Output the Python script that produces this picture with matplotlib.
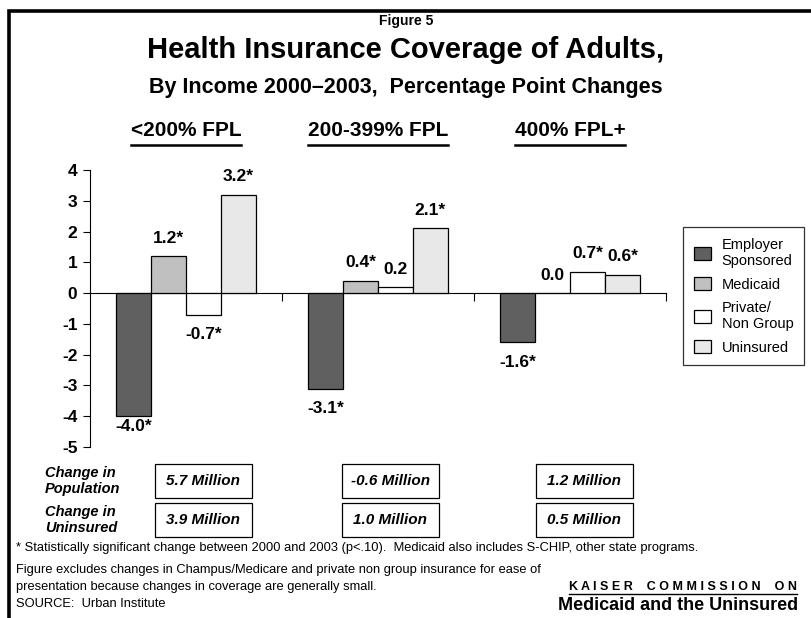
import matplotlib
matplotlib.use("Agg")
import matplotlib.pyplot as plt
import numpy as np
from matplotlib.patches import Patch, Rectangle
from matplotlib.lines import Line2D

groups = ["<200% FPL", "200-399% FPL", "400% FPL+"]
series = ["Employer\nSponsored", "Medicaid", "Private/\nNon Group", "Uninsured"]
employer = [-4.0, -3.1, -1.6]
medicaid = [1.2, 0.4, 0.0]
private = [-0.7, 0.2, 0.7]
uninsured = [3.2, 2.1, 0.6]
labels_emp = ["-4.0*", "-3.1*", "-1.6*"]
labels_med = ["1.2*", "0.4*", "0.0"]
labels_pri = ["-0.7*", "0.2", "0.7*"]
labels_uni = ["3.2*", "2.1*", "0.6*"]
pop_change = ["5.7 Million", "-0.6 Million", "1.2 Million"]
unins_change = ["3.9 Million", "1.0 Million", "0.5 Million"]
yticks = [4, 3, 2, 1, 0, -1, -2, -3, -4, -5]

colors = ["#606060", "#c0c0c0", "#ffffff", "#e8e8e8"]
SANS = ["Liberation Sans", "DejaVu Sans"]
plt.rcParams['font.family'] = SANS

W, H = 812, 618
fig = plt.figure(figsize=(W / 100, H / 100), dpi=100)

def fx(px):
    return px / W

def fy(py):
    return 1 - py / H

# frame
fig.add_artist(Line2D([fx(9.5), fx(9.5), fx(812)], [fy(618), fy(10.5), fy(10.5)],
                      color="black", lw=2.6, transform=fig.transFigure, solid_joinstyle="miter"))

# titles
fig.text(0.5, fy(21), "Figure 5", ha="center", va="center", fontsize=10,
         fontweight="bold")
fig.text(0.5, fy(50), "Health Insurance Coverage of Adults,", ha="center", va="center",
         fontsize=21, fontweight="bold")
fig.text(0.5, fy(88), "By Income 2000\u20132003,  Percentage Point Changes", ha="center",
         va="center", fontsize=15.5, fontweight="bold")

# axes
ax_l, ax_r, ax_t, ax_b = 90, 666, 170, 447
ax = fig.add_axes([fx(ax_l), fy(ax_b), fx(ax_r - ax_l), (ax_b - ax_t) / H])
x = np.arange(len(groups))
bw = 0.182
data = [employer, medicaid, private, uninsured]
labs = [labels_emp, labels_med, labels_pri, labels_uni]
for i, (vals, c, lb) in enumerate(zip(data, colors, labs)):
    pos = x - 1.5 * bw + i * bw
    ax.bar(pos, vals, width=bw, color=c, edgecolor="black", linewidth=0.9, zorder=3)
    for p, v, t in zip(pos, vals, lb):
        if v >= 0:
            yy = v + 0.58
        else:
            yy = max(v - 0.65, -4.35)
        ax.text(p, yy, t, ha="center", va="center", fontsize=12.5, fontweight="bold")

ax.set_xlim(-0.5, 2.5)
ax.set_ylim(-5, 4)
ax.set_yticks(yticks)
ax.set_yticklabels([str(t) for t in yticks], fontsize=12.5, fontweight="bold")
ax.tick_params(axis="y", direction="out", length=5, width=0.8, pad=4)
ax.spines["top"].set_visible(False)
ax.spines["right"].set_visible(False)
ax.spines["left"].set_linewidth(0.8)
ax.spines["bottom"].set_position(("data", 0))
ax.spines["bottom"].set_linewidth(0.8)
ax.set_xticks([0.5, 1.5, 2.5])
ax.set_xticklabels([])
ax.tick_params(axis="x", direction="out", length=6, width=0.8)
ax.patch.set_alpha(0)

# group headings (underlined)
for xi, g in zip(x, groups):
    xp = ax_l + (xi + 0.5) / 3 * (ax_r - ax_l)
    fig.text(fx(xp), fy(131), g, ha="center", va="center", fontsize=15,
             fontweight="bold")
fig.canvas.draw()
r = fig.canvas.get_renderer()
for t in fig.texts:
    if t.get_text() in groups:
        bb = t.get_window_extent(r)
        fig.add_artist(Line2D([bb.x0 / W, bb.x1 / W], [fy(145), fy(145)], color="black",
                              lw=1.8, transform=fig.transFigure))

# legend
handles = [Patch(facecolor=c, edgecolor="black", linewidth=0.9) for c in colors]
leg = fig.legend(handles, series, loc="upper left", bbox_to_anchor=(fx(683), fy(227)),
                 frameon=True, fancybox=False, fontsize=10.5, handlelength=1.15,
                 handleheight=1.0, handletextpad=0.75, labelspacing=0.62, borderpad=0.75,
                 borderaxespad=0, edgecolor="black")
leg.get_frame().set_linewidth(0.9)

# change boxes
fig.text(fx(45), fy(481), "Change in\nPopulation", ha="left", va="center", fontsize=10.5,
         fontweight="bold", style="italic", linespacing=1.2)
fig.text(fx(45), fy(520), "Change in\nUninsured", ha="left", va="center", fontsize=10.5,
         fontweight="bold", style="italic", linespacing=1.2)
box_x = [155, 342, 536]
row_y = [(464, 498), (503, 537)]
for bx, pc, uc in zip(box_x, pop_change, unins_change):
    for (y0, y1), txt in zip(row_y, [pc, uc]):
        fig.add_artist(Rectangle((fx(bx), fy(y1)), fx(97), (y1 - y0) / H, facecolor="white",
                                 edgecolor="black", lw=0.9, transform=fig.transFigure))
        fig.text(fx(bx + 48.5), fy((y0 + y1) / 2), txt, ha="center", va="center",
                 fontsize=11, fontweight="bold", style="italic")

# footnotes
fs = 9.3
fig.text(fx(16), fy(548), "* Statistically significant change between 2000 and 2003 (p<.10).  "
         "Medicaid also includes S-CHIP, other state programs.", ha="left", va="center",
         fontsize=fs)
fig.text(fx(16), fy(570), "Figure excludes changes in Champus/Medicare and private non group "
         "insurance for ease of", ha="left", va="center", fontsize=fs)
fig.text(fx(16), fy(587), "presentation because changes in coverage are generally small.",
         ha="left", va="center", fontsize=fs)
fig.text(fx(16), fy(604), "SOURCE:  Urban Institute", ha="left", va="center", fontsize=fs)

# logo
kt = fig.text(fx(797), fy(587), "K A I S E R    C O M M I S S I O N    O N", ha="right",
              va="center", fontsize=9, fontweight="bold")
fig.text(fx(798), fy(605), "Medicaid and the Uninsured", ha="right", va="center",
         fontsize=13, fontweight="black")
fig.canvas.draw()
bb = kt.get_window_extent(fig.canvas.get_renderer())
fig.add_artist(Line2D([bb.x0 / W, bb.x1 / W], [fy(594), fy(594)], color="black", lw=1.0,
                      transform=fig.transFigure))

fig.savefig("out.png", dpi=100)
